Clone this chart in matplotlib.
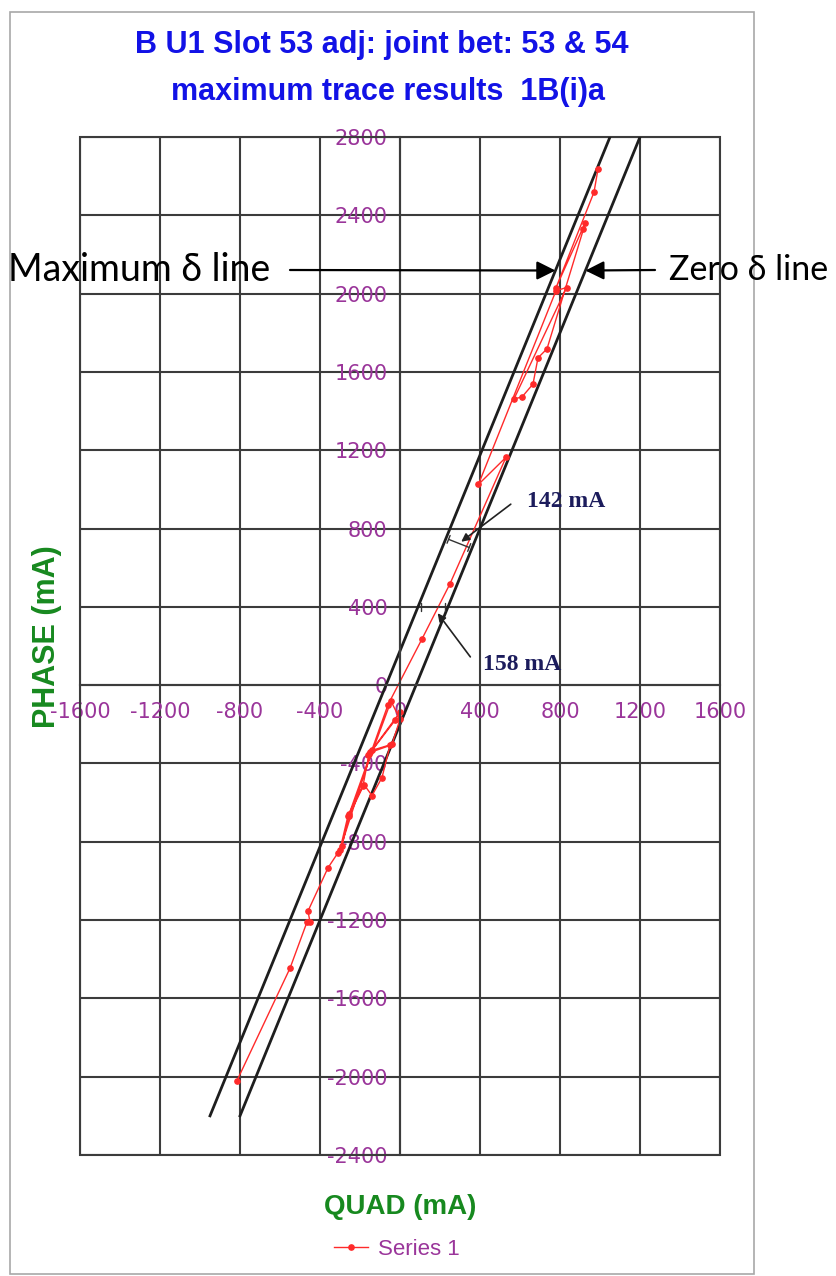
import matplotlib.pyplot as plt
from matplotlib.patches import Rectangle

# trace points (QUAD, PHASE) in mA
quad = [-815, -550, -465, -450, -460, -360, -310, -290, -255, -180, -140, -90,
        -50, -150, -160, 0, -25, -155, -185, -260, -300, -140, -40, 0, -45,
        -255, -60, 110, 250, 530, 392, 780, 833, 570, 610, 665, 690, 735, 917,
        925, 780, 970, 990]
phase = [-2020, -1446, -1210, -1210, -1154, -933, -856, -821, -667, -508, -564,
         -472, -308, -344, -359, -138, -180, -354, -513, -667, -840, -333, -302,
         -174, -82, -660, -100, 236, 518, 1164, 1025, 2015, 2031, 1462, 1472,
         1538, 1672, 1718, 2328, 2359, 2030, 2518, 2636]

# boundary lines (end points)
max_line_x = [-950, 1050]
max_line_y = [-2200, 2800]
zero_line_x = [-800, 1200]
zero_line_y = [-2200, 2800]

x_ticks = list(range(-1600, 1601, 400))
y_ticks = list(range(-2400, 2801, 400))

purple = '#9a359a'
green = '#17891f'
grid_c = '#3c3c3c'
navy = '#1c1c5c'

fig = plt.figure(figsize=(8.36, 12.76), dpi=100)
fig.patches.append(Rectangle((10 / 836, 2 / 1276), 744 / 836, 1262 / 1276,
                             transform=fig.transFigure, fill=False,
                             ec='#a8a8a8', lw=1.2))

ax = fig.add_axes([80 / 836, 1 - 1155 / 1276, 640 / 836, 1018 / 1276])
ax.set_xlim(-1600, 1600)
ax.set_ylim(-2400, 2800)
ax.set_xticks(x_ticks)
ax.set_yticks(y_ticks)
ax.set_xticklabels([str(v) for v in x_ticks])
ax.set_yticklabels([str(v) for v in y_ticks])
ax.grid(True, color=grid_c, lw=1.5)
ax.set_axisbelow(True)
ax.tick_params(length=0, labelcolor=purple, labelsize=15)
ax.tick_params(axis='x', pad=12)
ax.tick_params(axis='y', pad=9)
for lab in ax.get_xticklabels() + ax.get_yticklabels():
    lab.set_fontfamily('Liberation Sans')

for s in ['top', 'right']:
    ax.spines[s].set_visible(False)
ax.spines['left'].set_position(('data', 0))
ax.spines['bottom'].set_position(('data', 0))
for s in ['left', 'bottom']:
    ax.spines[s].set_color(grid_c)
    ax.spines[s].set_linewidth(1.5)
ax.add_patch(Rectangle((0, 0), 1, 1, transform=ax.transAxes, fill=False,
                       ec=grid_c, lw=1.5, clip_on=False))

ax.plot(max_line_x, max_line_y, color='#1e1e1e', lw=2)
ax.plot(zero_line_x, zero_line_y, color='#1e1e1e', lw=2)
ax.plot(quad, phase, color='#ff2a2a', lw=1.0, marker='o', ms=3.8,
        label='Series 1')

# width markers between the lines
ax.annotate('', xy=(230, 750), xytext=(359, 698),
            arrowprops=dict(arrowstyle='|-|', mutation_scale=3, lw=1, color='#333333'))
ax.annotate('', xy=(295, 724), xytext=(565, 933),
            arrowprops=dict(arrowstyle='-|>', mutation_scale=12, lw=1.2, color='#222222'))
ax.text(635, 938, '142 mA', color=navy, fontsize=17, family='Liberation Serif',
        fontweight='bold', va='center', ha='left')
ax.annotate('', xy=(90, 400), xytext=(240, 400),
            arrowprops=dict(arrowstyle='|-|', mutation_scale=3, lw=1, color='#333333'))
ax.annotate('', xy=(180, 379), xytext=(360, 133),
            arrowprops=dict(arrowstyle='-|>', mutation_scale=12, lw=1.2, color='#222222'))
ax.text(415, 103, '158 mA', color=navy, fontsize=17, family='Liberation Serif',
        fontweight='bold', va='center', ha='left')

ax.set_xlabel('QUAD (mA)', color=green, fontsize=20, fontweight='bold',
              family='Liberation Sans')
ax.xaxis.set_label_coords(0.5, -0.051)
ax.xaxis.label.set_va('center')
ax.set_ylabel('PHASE (mA)', color=green, fontsize=22, fontweight='bold',
              family='Liberation Sans')
ax.yaxis.set_label_coords(-0.052, 0.509)
ax.yaxis.label.set_va('center')

leg = ax.legend(loc='center', bbox_to_anchor=(0.495, -0.093), frameon=False,
                handlelength=1.5, handletextpad=0.45,
                prop={'family': 'Liberation Sans', 'size': 16})
for t in leg.get_texts():
    t.set_color(purple)

fig.text(382 / 836, 1 - 45 / 1276, 'B U1 Slot 53 adj: joint bet: 53 & 54',
         color='#1212e6', fontsize=22, fontweight='bold', family='Liberation Sans',
         ha='center', va='center')
fig.text(388 / 836, 1 - 92 / 1276, 'maximum trace results  1B(i)a',
         color='#1212e6', fontsize=22, fontweight='bold', family='Liberation Sans',
         ha='center', va='center')

# callouts for the two boundary lines
side_font = ['Lato', 'DejaVu Serif']
fig.text(8 / 836, 1 - 270 / 1276, 'Maximum δ line', fontsize=27,
         family=side_font, ha='left', va='center')
fig.text(828 / 836, 1 - 270 / 1276, 'Zero δ line', fontsize=24.5,
         family=side_font, ha='right', va='center')
ax.annotate('', xy=(777, 2118), xytext=(290, 1006), xycoords='data',
            textcoords='figure pixels',
            arrowprops=dict(arrowstyle='-|>', mutation_scale=28, lw=1.6,
                            color='black', shrinkA=0, shrinkB=0),
            annotation_clip=False)
ax.annotate('', xy=(927, 2118), xytext=(655, 1006), xycoords='data',
            textcoords='figure pixels',
            arrowprops=dict(arrowstyle='-|>', mutation_scale=28, lw=1.6,
                            color='black', shrinkA=0, shrinkB=0),
            annotation_clip=False)

fig.savefig('out.png', dpi=100)
